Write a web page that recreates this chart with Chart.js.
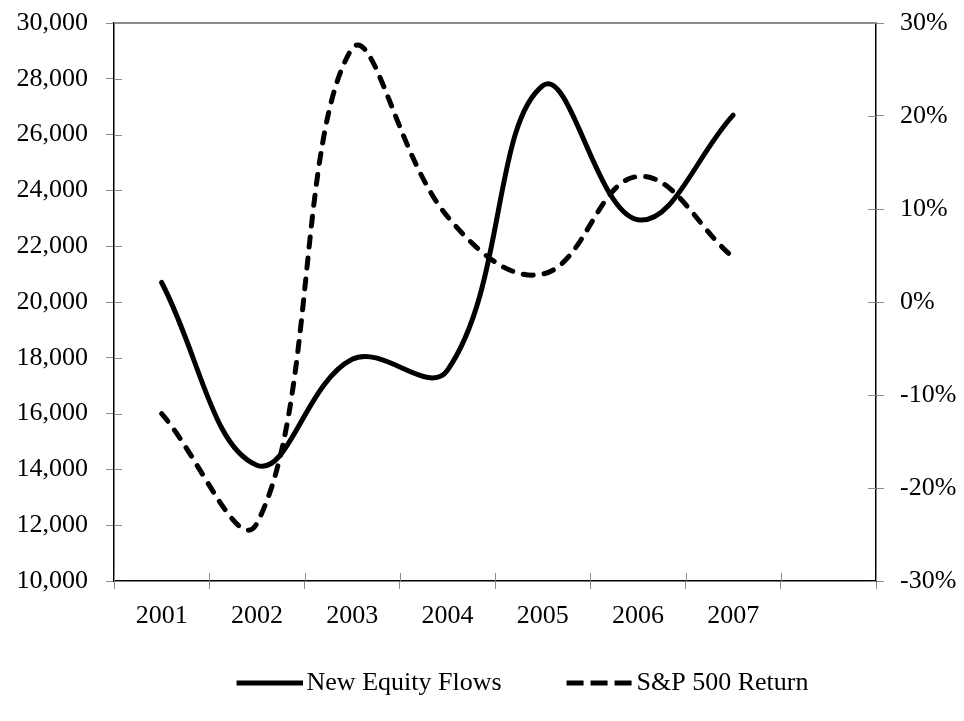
<!DOCTYPE html>
<html><head><meta charset="utf-8">
<script src="https://cdn.jsdelivr.net/npm/chart.js@4/dist/chart.umd.min.js"></script>
<style>html,body{margin:0;padding:0;background:#fff}#wrap{width:964px;height:721px}</style>
</head><body><div id="wrap"><canvas id="c" width="964" height="721"></canvas></div>
<script>
// ---- data ----
const years = ['2001', '2002', '2003', '2004', '2005', '2006', '2007', ''];
const equityFlows = [20700, 14150, 17950, 17550, 27750, 22950, 26700, null];
const spReturn = [-12.0, -23.8, 27.3, 9.2, 3.0, 13.5, 4.8, null];
const leftTickValues = [10000, 12000, 14000, 16000, 18000, 20000, 22000, 24000, 26000, 28000, 30000];
const rightTickValues = [-30, -20, -10, 0, 10, 20, 30];
const seriesNames = ['New Equity Flows', 'S&P 500 Return'];

const FONT = "'Liberation Serif', 'Times New Roman', serif";
const FS = 26;
const SAMPLE_W = 66;
const SAMPLE_SHIFT = 9;
const LEGEND_DX = 36;
const LEGEND_DY = -15;

function makeSample(dash) {
  const c = document.createElement('canvas');
  c.width = SAMPLE_W + 2 * SAMPLE_SHIFT;
  c.height = 10;
  const g = c.getContext('2d');
  g.strokeStyle = '#000';
  g.lineWidth = 5;
  g.lineCap = 'butt';
  if (dash) g.setLineDash(dash);
  g.beginPath();
  g.moveTo(2 * SAMPLE_SHIFT, 5);
  g.lineTo(c.width, 5);
  g.stroke();
  return c;
}
const samples = [makeSample(null), makeSample([17, 7])];

const frame = {
  id: 'frame',
  afterLayout(chart) {
    const lg = chart.legend;
    if (lg) {
      lg.left += LEGEND_DX; lg.right += LEGEND_DX;
      lg.top += LEGEND_DY; lg.bottom += LEGEND_DY;
    }
  },
  beforeDatasetsDraw(chart) {
    const {ctx, chartArea: a, scales} = chart;
    ctx.save();
    ctx.strokeStyle = '#8c8c8c';
    ctx.lineWidth = 2;
    ctx.beginPath(); ctx.moveTo(a.left, a.top); ctx.lineTo(a.right, a.top); ctx.stroke();
    ctx.lineWidth = 1;
    ctx.beginPath();
    scales.y.ticks.forEach((t, i) => {
      const p = Math.round(scales.y.getPixelForTick(i)) + 0.5;
      ctx.moveTo(a.left, p); ctx.lineTo(a.left + 8, p);
    });
    scales.y1.ticks.forEach((t, i) => {
      const p = Math.round(scales.y1.getPixelForTick(i)) + 0.5;
      ctx.moveTo(a.right - 8, p); ctx.lineTo(a.right, p);
    });
    for (let i = 0; i <= years.length; i++) {
      const p = Math.round(scales.x.getPixelForValue(i - 0.5)) + 0.5;
      ctx.moveTo(p, a.bottom - 8); ctx.lineTo(p, a.bottom);
    }
    ctx.stroke();
    ctx.restore();
  }
};

function fitVertical(width) {
  return function (s) { s.width = width; s.paddingTop = 0; s.paddingBottom = 0; };
}

new Chart(document.getElementById('c'), {
  type: 'line',
  data: {
    labels: years,
    datasets: [
      {
        label: seriesNames[0], data: equityFlows, yAxisID: 'y',
        borderColor: '#000', backgroundColor: '#000', borderWidth: 5,
        tension: 0.4, pointRadius: 0, borderCapStyle: 'round', borderJoinStyle: 'round', fill: false
      },
      {
        label: seriesNames[1], data: spReturn, yAxisID: 'y1',
        borderColor: '#000', backgroundColor: '#000', borderWidth: 5,
        borderDash: [10, 11], borderCapStyle: 'round', borderJoinStyle: 'round',
        tension: 0.4, pointRadius: 0, fill: false
      }
    ]
  },
  options: {
    responsive: false,
    animation: false,
    layout: {padding: {top: 23, left: 0, right: 0, bottom: 0}},
    plugins: {
      tooltip: {enabled: false},
      legend: {
        position: 'bottom',
        labels: {
          usePointStyle: true,
          pointStyleWidth: SAMPLE_W,
          padding: 56,
          color: '#000',
          font: {family: FONT, size: FS},
          generateLabels(chart) {
            const items = Chart.defaults.plugins.legend.labels.generateLabels(chart);
            items.forEach((it, i) => { it.pointStyle = samples[i]; it.lineWidth = 5; it.strokeStyle = '#000'; });
            return items;
          }
        }
      }
    },
    scales: {
      x: {
        type: 'category', offset: true,
        grid: {offset: true, drawOnChartArea: false, drawTicks: true, tickLength: 8, color: '#8c8c8c', lineWidth: 1},
        border: {color: '#000', width: 1.5},
        ticks: {color: '#000', font: {family: FONT, size: FS}, padding: 12, maxRotation: 0, autoSkip: false},
        afterFit(s) { s.height = 48; s.paddingLeft = 0; s.paddingRight = 0; }
      },
      y: {
        position: 'left', min: 10000, max: 30000,
        afterBuildTicks(s) { s.ticks = leftTickValues.map(v => ({value: v})); },
        grid: {drawOnChartArea: false, tickLength: 8, color: '#8c8c8c', lineWidth: 1},
        border: {color: '#000', width: 1.5},
        ticks: {color: '#000', font: {family: FONT, size: FS}, padding: 18,
          callback: v => Number(v).toLocaleString('en-US')},
        afterFit: fitVertical(114)
      },
      y1: {
        position: 'right', min: -30, max: 30,
        afterBuildTicks(s) { s.ticks = rightTickValues.map(v => ({value: v})); },
        grid: {drawOnChartArea: false, tickLength: 8, color: '#8c8c8c', lineWidth: 1},
        border: {color: '#000', width: 1.5},
        ticks: {color: '#000', font: {family: FONT, size: FS}, padding: 16,
          callback: v => v + '%'},
        afterFit: fitVertical(88)
      }
    }
  },
  plugins: [frame]
});
</script>
</body></html>
